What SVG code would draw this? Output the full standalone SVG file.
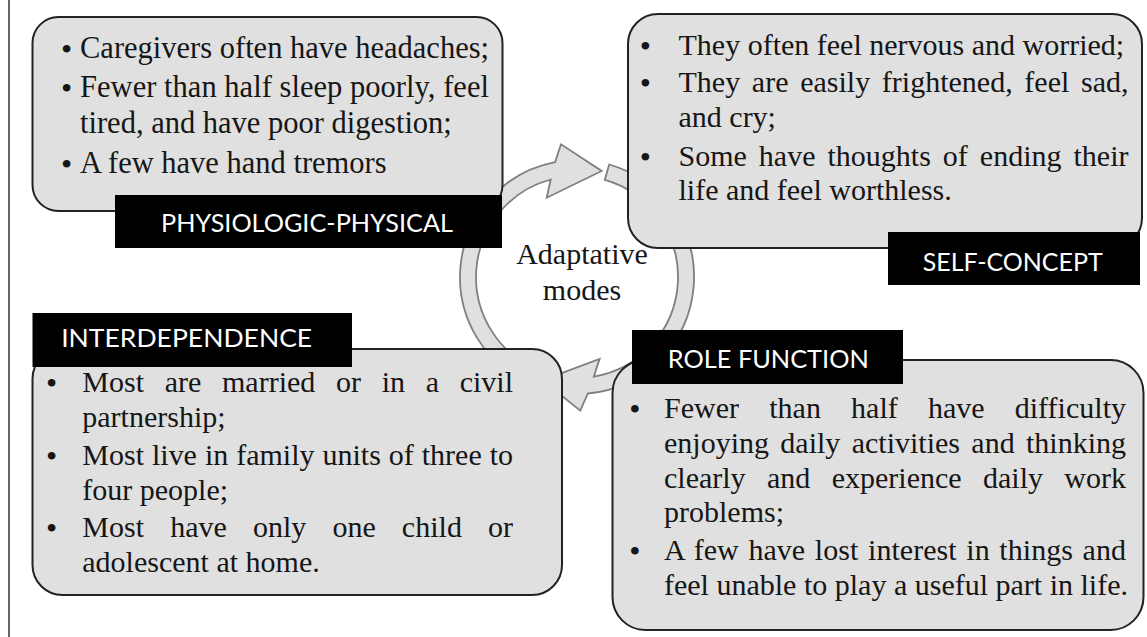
<svg xmlns="http://www.w3.org/2000/svg" width="1147" height="637" viewBox="0 0 1147 637">
<style>
.box{fill:#e0e0e0;stroke:#222;stroke-width:2}
.lab{fill:#000}
.lt{font-family:Lato,"Open Sans","Liberation Sans",sans-serif;font-size:25px;fill:#fff}
.t{font-family:"Liberation Serif","Times New Roman",serif;font-size:30px;fill:#161616}
.t1{font-size:30.5px}
.bu{font-family:"Liberation Serif","Times New Roman",serif;font-size:32px;fill:#161616;text-anchor:middle}
.ring{fill:#e0e0e0;stroke:#7f7f7f;stroke-width:1.8;stroke-linejoin:miter}
.ctr{font-family:"Liberation Serif","Times New Roman",serif;font-size:30px;fill:#161616;text-anchor:middle}
</style>
<rect width="1147" height="637" fill="#fff"/>
<line x1="9" y1="0" x2="9" y2="637" stroke="#333" stroke-width="1.5"/>
<g id="connectors">
<path class="ring" d="M533.9,385.8 A117,117 0 0 1 555.1,162.1 L561,144.3 L601.7,171 L546.7,197.7 L550.7,179.5 A101,101 0 0 0 539.8,370.9 Z"/>
<path class="ring" d="M609.2,164.5 A117,117 0 0 1 587.8,393.5 L580.3,410.6 L542.2,380.3 L599.6,358.9 L593.8,376.6 A101,101 0 0 0 604.8,179.9 Z"/>
</g>
<g id="center">
<text class="ctr" x="582" y="264">Adaptative</text>
<text class="ctr" x="582" y="300">modes</text>
</g>
<g id="physiologic-physical">
<rect class="box" x="32.5" y="17" width="470" height="194" rx="26"/>
<text class="bu" x="66.5" y="60">•</text>
<text class="t t1" x="80" y="58">Caregivers often have headaches;</text>
<text class="bu" x="66.5" y="99">•</text>
<text class="t t1" x="80" y="97" textLength="409" lengthAdjust="spacing">Fewer than half sleep poorly, feel</text>
<text class="t t1" x="80" y="133">tired, and have poor digestion;</text>
<text class="bu" x="66.5" y="175">•</text>
<text class="t t1" x="80" y="173">A few have hand tremors</text>
<rect class="lab" x="115" y="195" width="387" height="53"/>
<text class="lt" x="161" y="232" textLength="292" lengthAdjust="spacingAndGlyphs">PHYSIOLOGIC-PHYSICAL</text>
</g>
<g id="self-concept">
<rect class="box" x="628" y="14" width="514" height="234" rx="30"/>
<text class="bu" x="645.4" y="57">•</text>
<text class="t" x="678.5" y="55">They often feel nervous and worried;</text>
<text class="bu" x="645.4" y="94">•</text>
<text class="t" x="678.5" y="92" word-spacing="4.2" textLength="450" lengthAdjust="spacing">They are easily frightened, feel sad,</text>
<text class="t" x="678.5" y="127">and cry;</text>
<text class="bu" x="645.4" y="167.5">•</text>
<text class="t" x="678.5" y="165.5" word-spacing="4.5" textLength="450" lengthAdjust="spacing">Some have thoughts of ending their</text>
<text class="t" x="678.5" y="200">life and feel worthless.</text>
<rect class="lab" x="888" y="232" width="252" height="53"/>
<text class="lt" x="922.7" y="271" textLength="180" lengthAdjust="spacingAndGlyphs">SELF-CONCEPT</text>
</g>
<g id="interdependence">
<rect class="box" x="32.5" y="349" width="529.5" height="246" rx="30"/>
<text class="bu" x="51.7" y="394">•</text>
<text class="t" x="82.3" y="392" word-spacing="13.2" textLength="430.7" lengthAdjust="spacing">Most are married or in a civil</text>
<text class="t" x="82.3" y="427">partnership;</text>
<text class="bu" x="51.7" y="467">•</text>
<text class="t" x="82.3" y="465" word-spacing="0.46" textLength="430.7" lengthAdjust="spacing">Most live in family units of three to</text>
<text class="t" x="82.3" y="500">four people;</text>
<text class="bu" x="51.7" y="539">•</text>
<text class="t" x="82.3" y="537" word-spacing="18.6" textLength="430.7" lengthAdjust="spacing">Most have only one child or</text>
<text class="t" x="82.3" y="572">adolescent at home.</text>
<rect class="lab" x="32.5" y="313" width="319.5" height="54"/>
<text class="lt" x="61.2" y="347" textLength="251" lengthAdjust="spacingAndGlyphs">INTERDEPENDENCE</text>
</g>
<g id="role-function">
<rect class="box" x="612.5" y="360" width="531" height="270" rx="33"/>
<text class="bu" x="634.9" y="420">•</text>
<text class="t" x="664" y="418" word-spacing="22.6" textLength="462" lengthAdjust="spacing">Fewer than half have difficulty</text>
<text class="t" x="664" y="453" word-spacing="3.8" textLength="462" lengthAdjust="spacing">enjoying daily activities and thinking</text>
<text class="t" x="664" y="488" word-spacing="13.9" textLength="462" lengthAdjust="spacing">clearly and experience daily work</text>
<text class="t" x="664" y="522">problems;</text>
<text class="bu" x="634.9" y="562">•</text>
<text class="t" x="664" y="560" word-spacing="2.07" textLength="462" lengthAdjust="spacing">A few have lost interest in things and</text>
<text class="t" x="664" y="595">feel unable to play a useful part in life.</text>
<rect class="lab" x="632" y="330" width="271" height="54"/>
<text class="lt" x="667.8" y="368" textLength="201" lengthAdjust="spacingAndGlyphs">ROLE FUNCTION</text>
</g>
</svg>
